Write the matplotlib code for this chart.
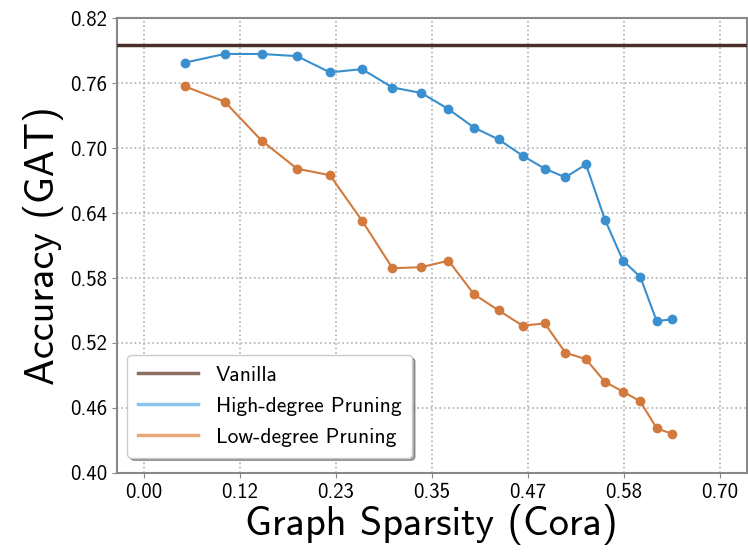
import numpy as np
import matplotlib
matplotlib.use('Agg')
import matplotlib.pyplot as plt

plt.rcParams['font.family'] = ['cmss10', 'DejaVu Sans']
plt.rcParams['axes.unicode_minus'] = False

# data
sparsity = [0.050, 0.098, 0.143, 0.186, 0.226, 0.265, 0.302, 0.337, 0.370, 0.401,
            0.431, 0.460, 0.487, 0.512, 0.537, 0.560, 0.582, 0.603, 0.623, 0.642]
acc_high = [0.779, 0.787, 0.787, 0.785, 0.770, 0.773, 0.756, 0.751, 0.736, 0.719,
            0.708, 0.693, 0.681, 0.673, 0.685, 0.634, 0.596, 0.581, 0.540, 0.542]
acc_low = [0.757, 0.743, 0.707, 0.681, 0.675, 0.633, 0.589, 0.590, 0.596, 0.565,
           0.550, 0.536, 0.538, 0.511, 0.505, 0.484, 0.475, 0.466, 0.441, 0.436]
acc_vanilla = 0.795

xticks = [0.0, 0.7/6, 1.4/6, 2.1/6, 2.8/6, 3.5/6, 0.7]
xtick_labels = ['0.00', '0.12', '0.23', '0.35', '0.47', '0.58', '0.70']
yticks = [0.40, 0.46, 0.52, 0.58, 0.64, 0.70, 0.76, 0.82]

fig = plt.figure(figsize=(7.48, 5.53), dpi=100)
ax = fig.add_axes([0.156, 0.145, 0.842, 0.822])

ax.axhline(acc_vanilla, color='#4a3029', linewidth=2.5, label='Vanilla', zorder=3)
ax.plot(sparsity, acc_high, color='#3a8fce', marker='o', markersize=6, linewidth=1.5,
        label='High-degree Pruning')
ax.plot(sparsity, acc_low, color='#d27a3e', marker='o', markersize=6, linewidth=1.5,
        label='Low-degree Pruning')

ax.set_xlim(-0.033, 0.732)
ax.set_ylim(0.40, 0.82)
ax.set_xticks(xticks)
ax.set_xticklabels(xtick_labels)
ax.set_yticks(yticks)
ax.set_yticklabels(['%.2f' % v for v in yticks])
ax.tick_params(labelsize=15, color='#888888')
ax.grid(True, linestyle=':', color='#b0b0b0', linewidth=1.2)
for s in ax.spines.values():
    s.set_color('#888888')
    s.set_linewidth(1.5)

ax.set_xlabel('Graph Sparsity (Cora)', fontsize=29, labelpad=2)
ax.set_ylabel('Accuracy (GAT)', fontsize=29, labelpad=4)

leg = ax.legend(loc='lower left', fontsize=15.5, shadow=True, fancybox=True,
                borderpad=0.5, labelspacing=0.55, handlelength=2.8,
                bbox_to_anchor=(0.0, 0.01))
for h, c in zip(leg.get_lines(), ['#8c6d62', '#8cc4ec', '#eaa77a']):
    h.set_color(c)
    h.set_linewidth(2.5)
    h.set_marker('None')

plt.savefig('out.png', dpi=100)
